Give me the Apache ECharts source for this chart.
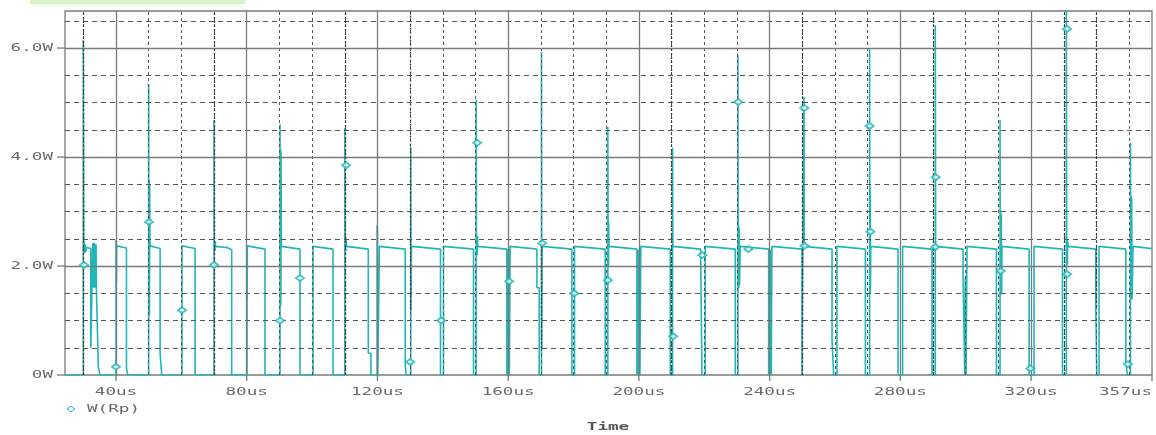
<!DOCTYPE html>
<html>
<head>
<meta charset="utf-8">
<script src="https://cdn.jsdelivr.net/npm/echarts@6/dist/echarts.min.js"></script>
<style>
  html, body { margin: 0; padding: 0; background: #fff; }
  #chart { width: 1156px; height: 435px; }
</style>
</head>
<body>
<div id="chart"></div>
<script>
// Time axis (us) and power axis (W) ticks
const timeTicks = [40, 80, 120, 160, 200, 240, 280, 320, 357];
const timeTickLabels = ['40us', '80us', '120us', '160us', '200us', '240us', '280us', '320us', '357us'];
const minorTimes = [30, 50, 60, 70, 90, 100, 110, 130, 140, 150, 170, 180, 190, 210, 220, 230, 250, 260, 270, 290, 300, 310, 330, 340, 350];
const powerTicks = [0, 2, 4, 6];
const powerTickLabels = ['0W', '2.0W', '4.0W', '6.0W'];
const minorPowers = [0.5, 1, 1.5, 2.5, 3, 3.5, 4.5, 5, 5.5, 6.5];

// Grid lines that the trace crowds into dense dotted bands: [time us, from W, to W]
const denseGridLines = [
  [30, 0, 6.68], [70, 0, 6.68], [110, 0, 6.68], [130, 1.2, 6.68], [170, 0.5, 2.42],
  [210, 0, 6.68], [250, 0, 6.68], [290, 0, 6.68], [330, 0, 6.68], [340, 1.25, 6.68]
];

// W(Rp) transient trace: [time us, power W]
const wRp = [
  [24.4,0],[30.0,0],
  [30.0,6.15],[30.15,2.26],[30.3,2.42],[30.45,2.24],[30.6,2.4],[30.75,2.26],[30.9,2.34],
  [32.3,2.32],[32.3,0.5],[32.9,0.5],[32.9,2.42],[33.15,1.6],[33.4,2.42],[33.65,1.6],[33.9,2.4],[34.0,1.58],[34.6,1.56],[34.6,0.15],[35.1,0.15],[35.1,0],
  [40.0,0],[40.0,2.48],[40.05,1.69],[40.1,2.46],[40.15,1.7],[40.2,2.37],[43.2,2.33],[43.2,0.13],[43.6,0.13],[43.6,0],
  [50.0,0],[50.0,5.34],[50.08,1.06],[50.16,3.58],[50.24,1.1],[50.32,3.5],[50.4,2.37],[53.5,2.32],[53.5,0.4],[54.0,0.4],[54.0,0],
  [60.2,0],[60.2,2.37],[64.2,2.32],[64.2,0],
  [70.0,0],[70.0,4.68],[70.1,2.28],[70.2,2.46],[70.3,2.28],[70.4,2.44],[70.5,2.36],[73.9,2.34],[73.9,2.31],[75.4,2.3],[75.4,0],
  [80.1,0],[80.1,2.37],[80.15,1.41],[80.2,2.37],[85.6,2.31],[85.6,0],
  [90.2,0],[90.2,4.6],[90.28,1.25],[90.36,4.15],[90.44,1.28],[90.52,4.1],[90.6,2.36],[96.3,2.31],[96.3,0],
  [100.3,0],[100.3,2.36],[106.4,2.31],[106.4,0],
  [110.0,0],[110.0,4.53],[110.1,2.28],[110.2,2.55],[110.3,2.28],[110.4,2.5],[110.5,2.36],[117.2,2.31],[117.2,0.4],[118.0,0.4],[118.0,0],
  [119.9,0],[119.9,2.75],[119.95,0.33],[120.0,2.7],[120.05,0.35],[120.1,0],[120.6,0],[120.6,2.36],[128.5,2.31],[128.5,0.2],[128.8,0.2],[128.8,0],
  [130.2,0],[130.2,4.17],[130.3,1.2],[130.4,2.36],[139.3,2.31],[139.3,0],[140.2,0],[140.2,2.36],
  [149.4,2.31],[149.4,0],[150.2,0],[150.2,5.05],[150.3,2.2],[150.4,2.57],[150.5,2.2],[150.6,2.55],[150.7,2.36],
  [159.6,2.31],[159.6,0],[159.8,2.3],[160.0,0],[160.2,2.3],[160.35,0],[160.6,0],[160.6,2.36],
  [168.8,2.31],[168.8,1.6],[169.5,1.6],[169.5,0],[170.2,0],[170.2,5.93],[170.3,0.5],[170.4,2.42],[170.5,2.36],
  [179.5,2.31],[179.5,0],[180.3,0],[180.3,2.36],
  [189.7,2.31],[189.7,0],[190.5,0],[190.5,4.55],[190.6,1.98],[190.65,2.84],[190.7,1.98],[190.75,2.8],[190.85,2.36],
  [199.4,2.31],[199.4,0],[199.6,2.3],[199.8,0],[200.1,2.3],[200.3,0],[200.6,0],[200.6,2.36],
  [209.6,2.31],[209.6,0],[210.3,0],[210.3,4.17],[210.4,2.36],
  [218.9,2.31],[218.9,2.2],[219.3,2.2],[219.3,0],[220.3,0],[220.3,2.36],
  [229.5,2.31],[229.5,0],[230.3,0],[230.3,5.87],[230.4,1.6],[230.5,2.75],[230.6,1.6],[230.7,2.7],[230.8,1.65],[231.0,2.36],
  [239.7,2.31],[239.7,0],[239.9,2.3],[240.1,0],[240.3,2.3],[240.5,0],[240.7,0],[240.7,2.36],
  [249.9,2.31],[249.9,0],[250.5,0],[250.5,5.1],[250.6,2.36],
  [259.1,2.31],[259.1,0.64],[259.6,0.64],[259.6,0],[260.6,0],[260.6,2.36],
  [269.3,2.31],[269.3,0],[270.6,0],[270.6,5.98],[270.65,1.5],[270.7,3.45],[270.75,1.5],[270.8,3.4],[270.85,1.56],[270.95,2.36],
  [279.3,2.31],[279.3,0],[280.7,0],[280.7,2.36],
  [289.7,2.31],[289.7,0],[290.7,0],[290.7,6.42],[290.8,2.36],
  [299.2,2.31],[299.2,1.8],[299.7,1.8],[299.7,0],[299.9,1.8],[300.1,0],[300.4,0],[300.4,2.36],
  [309.4,2.31],[309.4,0],[310.5,0],[310.5,4.68],[310.6,1.47],[310.7,3.0],[310.8,1.5],[310.9,2.95],[311.0,1.5],[311.1,2.36],
  [319.4,2.31],[319.4,0],[320.9,0],[320.9,2.36],
  [329.6,2.31],[329.6,0],[330.8,0],[330.8,6.75],[330.9,2.02],[331.0,2.48],[331.1,2.02],[331.2,2.45],[331.4,2.36],
  [339.8,2.31],[339.8,1.25],[340.1,1.25],[340.1,0],[340.8,0],[340.8,2.36],
  [349.0,2.31],[349.0,0.22],[349.5,0.22],[349.5,0],[350.4,0],[350.4,4.26],[350.5,1.38],[350.6,3.3],[350.7,1.38],[350.8,3.25],[350.9,1.4],[351.2,2.36],
  [357.0,2.32]
];

// Diamond markers placed along the W(Rp) trace
const wRpMarkers = [
  [30.2,2.02],[40.0,0.15],[50.1,2.81],[60.2,1.19],[70.0,2.02],[90.2,1.0],[96.3,1.78],[110.4,3.85],
  [130.0,0.24],[139.5,1.0],[150.5,4.26],[160.3,1.72],[170.4,2.42],[180.2,1.5],[190.5,1.74],[210.5,0.71],
  [219.4,2.2],[230.4,5.01],[233.5,2.31],[250.6,4.9],[250.7,2.37],[270.6,4.57],[270.8,2.63],[290.8,3.63],
  [290.7,2.35],[310.7,1.91],[319.8,0.12],[331.0,6.35],[331.0,1.85],[349.6,0.2]
];

const TRACE = '#23b6b6';
const MONO = '"DejaVu Sans Mono", "Liberation Mono", monospace';
const STRETCH = 1.6;

const chart = echarts.init(document.getElementById('chart'), null, { renderer: 'canvas' });

const majorLine = { color: '#7a7a7a', width: 1.3, type: 'solid' };
const minorV = { color: '#555', width: 1, type: [3, 3] };
const minorH = { color: '#555', width: 1, type: [5, 4] };
const denseV = { color: '#3c3c3c', width: 1.3, type: [2, 2] };

const gridMarks = []
  .concat(minorTimes.map(t => ({ xAxis: t, lineStyle: minorV })))
  .concat(minorPowers.map(p => ({ yAxis: p, lineStyle: minorH })))
  .concat(timeTicks.slice(0, -1).map(t => ({ xAxis: t, lineStyle: majorLine })))
  .concat(powerTicks.slice(1).map(p => ({ yAxis: p, lineStyle: majorLine })));

const denseMarks = denseGridLines.map(([t, lo, hi]) => [
  { coord: [t, lo], lineStyle: denseV },
  { coord: [t, hi] }
]);

chart.setOption({
  animation: false,
  backgroundColor: '#fff',
  grid: {
    left: 65, right: 4, top: 11, bottom: 60,
    show: true, borderColor: '#7a7a7a', borderWidth: 1.3, backgroundColor: '#fff'
  },
  xAxis: {
    type: 'value', min: 24.4, max: 357,
    axisLine: { show: false }, axisTick: { show: false }, axisLabel: { show: false }, splitLine: { show: false }
  },
  yAxis: {
    type: 'value', min: 0, max: 6.68,
    axisLine: { show: false }, axisTick: { show: false }, axisLabel: { show: false }, splitLine: { show: false }
  },
  series: [
    {
      name: 'grid', type: 'line', data: [], z: 1, silent: true,
      markLine: { silent: true, symbol: ['none', 'none'], label: { show: false }, animation: false, data: gridMarks }
    },
    {
      name: 'W(Rp)', type: 'line', data: wRp, z: 3, showSymbol: false, smooth: false,
      lineStyle: { color: TRACE, width: 1.6 }, clip: true
    },
    {
      name: 'dense grid', type: 'line', data: [], z: 4, silent: true,
      markLine: { silent: true, symbol: ['none', 'none'], label: { show: false }, animation: false, data: denseMarks }
    },
    {
      name: 'W(Rp) markers', type: 'scatter', data: wRpMarkers, z: 5,
      symbol: 'emptyDiamond', symbolSize: [8, 6],
      itemStyle: { color: TRACE, borderColor: TRACE, borderWidth: 1 }
    }
  ]
});

// Axis labels, ticks and legend positioned through the chart's own scales
const px = (t, w) => chart.convertToPixel({ gridIndex: 0 }, [t, w]);
const graphics = [];
const bottomY = px(24.4, 0)[1];
const leftX = px(24.4, 0)[0];

powerTicks.forEach((p, i) => {
  const y = px(24.4, p)[1];
  graphics.push({ type: 'line', shape: { x1: leftX - 8, y1: y, x2: leftX, y2: y }, style: { stroke: '#7a7a7a', lineWidth: 1.3 } });
  graphics.push({ type: 'text', x: leftX - 12, y: y, scaleX: STRETCH,
    style: { text: powerTickLabels[i], font: '11px ' + MONO, fill: '#6a6a6a', align: 'right', verticalAlign: 'middle' } });
});
timeTicks.forEach((t, i) => {
  const x = px(t, 0)[0];
  graphics.push({ type: 'line', shape: { x1: x, y1: bottomY, x2: x, y2: bottomY + 6 }, style: { stroke: '#7a7a7a', lineWidth: 1.3 } });
  const last = i === timeTicks.length - 1;
  graphics.push({ type: 'text', x: x, y: bottomY + 17, scaleX: STRETCH,
    style: { text: timeTickLabels[i], font: '11px ' + MONO, fill: '#6a6a6a', align: last ? 'right' : 'center', verticalAlign: 'middle' } });
});

// Legend entry and axis title
graphics.push({ type: 'polygon', shape: { points: [[71, 406], [75, 409], [71, 412], [67, 409]] },
  style: { fill: '#fff', stroke: TRACE, lineWidth: 1 } });
graphics.push({ type: 'text', x: 87, y: 409, scaleX: STRETCH,
  style: { text: 'W(Rp)', font: '11px ' + MONO, fill: '#6a6a6a', align: 'left', verticalAlign: 'middle' } });
graphics.push({ type: 'text', x: 608, y: 427, scaleX: STRETCH,
  style: { text: 'Time', font: 'bold 11px ' + MONO, fill: '#555', align: 'center', verticalAlign: 'middle' } });

// Pale green strip along the top-left edge
graphics.push({ type: 'rect', shape: { x: 30, y: -4, width: 215, height: 8 },
  style: { fill: 'rgba(214,240,196,0.8)', shadowBlur: 6, shadowColor: 'rgba(214,240,196,0.9)' }, z: -1 });

chart.setOption({ graphic: graphics });
</script>
</body>
</html>
